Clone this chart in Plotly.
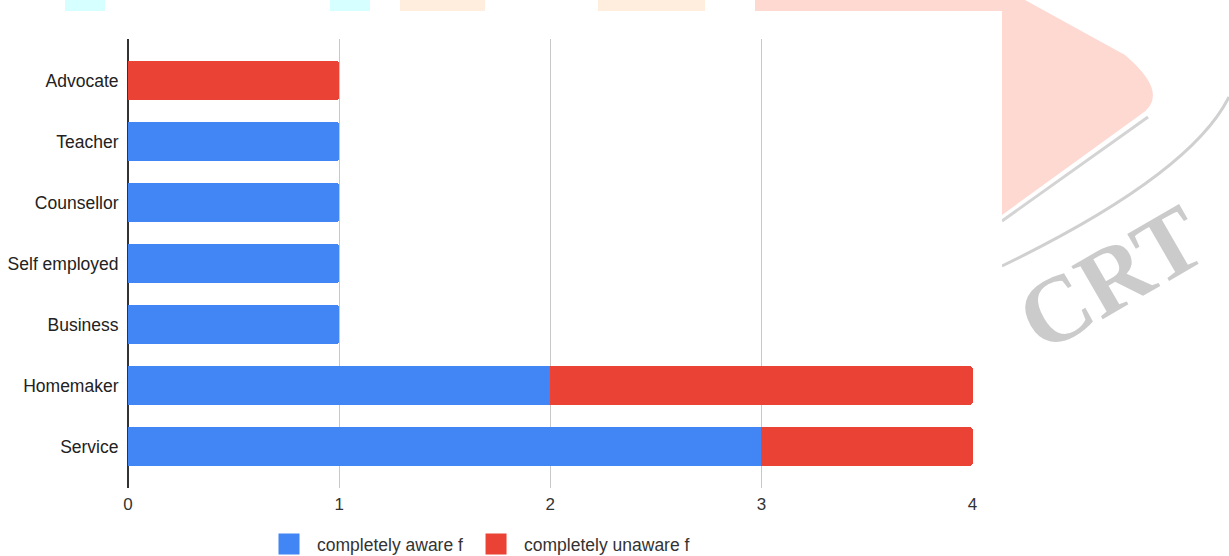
import plotly.graph_objects as go

categories = ["Advocate", "Teacher", "Counsellor", "Self employed", "Business", "Homemaker", "Service"]
aware = [0, 1, 1, 1, 1, 2, 3]
unaware = [1, 0, 0, 0, 0, 2, 1]
x_ticks = [0, 1, 2, 3, 4]
series_names = ["completely aware f", "completely unaware f"]

BLUE = "#4285F4"
RED = "#EA4335"
FONT = "Liberation Sans, Arial, sans-serif"

W, H = 1229, 556
L, R, T, B = 128, 256, 39, 68
pw, ph = W - L - R, H - T - B


def px(x):
    return (x - L) / pw


def py(y):
    return (H - B - y) / ph


fig = go.Figure()
fig.add_trace(go.Bar(y=categories, x=aware, orientation="h", name=series_names[0],
                     marker=dict(color=BLUE, line=dict(width=0)), showlegend=False))
fig.add_trace(go.Bar(y=categories, x=unaware, orientation="h", name=series_names[1],
                     marker=dict(color=RED, line=dict(width=0)), showlegend=False))
# legend swatches
for nm, col in zip(series_names, [BLUE, RED]):
    fig.add_trace(go.Scatter(x=[None], y=[None], mode="markers", name=nm,
                             marker=dict(symbol="square", size=22, color=col,
                                         line=dict(color=col, width=5))))

# faint background watermark (decorative)
shapes = [
    dict(type="rect", xref="paper", yref="paper", x0=px(65), x1=px(105), y0=py(11), y1=py(0),
         fillcolor="#D6FFFF", line=dict(width=0), layer="below"),
    dict(type="rect", xref="paper", yref="paper", x0=px(330), x1=px(370), y0=py(11), y1=py(0),
         fillcolor="#D6FFFF", line=dict(width=0), layer="below"),
    dict(type="rect", xref="paper", yref="paper", x0=px(400), x1=px(485), y0=py(11), y1=py(0),
         fillcolor="#FFEEDD", line=dict(width=0), layer="below"),
    dict(type="rect", xref="paper", yref="paper", x0=px(598), x1=px(705), y0=py(11), y1=py(0),
         fillcolor="#FFEEDD", line=dict(width=0), layer="below"),
    dict(type="path", xref="paper", yref="paper",
         path="M {a},{b} L {c},{b} L {d},{e} Q {f},{g} {h},{i} L {j},{k} L {j},{l} L {a},{l} Z".format(
             a=px(755), b=py(0), c=px(1025), d=px(1125), e=py(55), f=px(1172), g=py(95),
             h=px(1140), i=py(115), j=px(1002), k=py(215), l=py(11)),
         fillcolor="#FDD9D2", line=dict(width=0), layer="below"),
    dict(type="path", xref="paper", yref="paper",
         path="M {a},{b} L {c},{d}".format(a=px(1002), b=py(221), c=px(1148), d=py(117)),
         line=dict(color="#D4D4D4", width=3), layer="below"),
    dict(type="path", xref="paper", yref="paper",
         path="M {a},{b} Q {c},{d} {e},{f}".format(a=px(1002), b=py(266), c=px(1190), d=py(175),
                                                    e=px(1229), f=py(97)),
         line=dict(color="#D0D0D0", width=3), layer="below"),
    dict(type="rect", xref="paper", yref="paper", x0=px(0), x1=px(1002), y0=py(556), y1=py(11),
         fillcolor="white", line=dict(width=0), layer="below"),
]

fig.update_layout(
    width=W, height=H,
    margin=dict(l=L, r=R, t=T, b=B, pad=0, autoexpand=False),
    paper_bgcolor="white", plot_bgcolor="rgba(0,0,0,0)",
    barmode="stack", bargap=0.37, barcornerradius=2,
    font=dict(family=FONT, size=17, color="#222222"),
    shapes=shapes,
    annotations=[dict(text="<b>CRT</b>", xref="paper", yref="paper", x=px(1110), y=py(278),
                      xanchor="center", yanchor="middle",
                      showarrow=False, textangle=-30,
                      font=dict(family="Liberation Serif, serif", size=94, color="#CBCBCB"))],
    xaxis=dict(range=[0, 4.002], tickvals=x_ticks, ticktext=[str(v) for v in x_ticks],
               showgrid=True, gridcolor="#C8C8C8", gridwidth=1,
               zeroline=True, zerolinecolor="#333333", zerolinewidth=1.5,
               showline=False, ticks="outside", ticklen=1, tickcolor="rgba(0,0,0,0)",
               fixedrange=True,
               tickfont=dict(size=17, color="#333333")),
    yaxis=dict(categoryorder="array", categoryarray=categories,
               range=[6.68, -0.68], showgrid=False, zeroline=False, showline=False,
               ticks="outside", ticklen=5, tickcolor="rgba(0,0,0,0)",
               tickfont=dict(size=17.5, color="#222222")),
    legend=dict(orientation="h", x=px(261), xanchor="left", y=py(544), yanchor="middle",
                font=dict(size=17.5, color="#333333"), bgcolor="rgba(0,0,0,0)",
                itemwidth=46,
                traceorder="normal", itemclick=False),
    showlegend=True,
)

fig.write_html("out.html")
